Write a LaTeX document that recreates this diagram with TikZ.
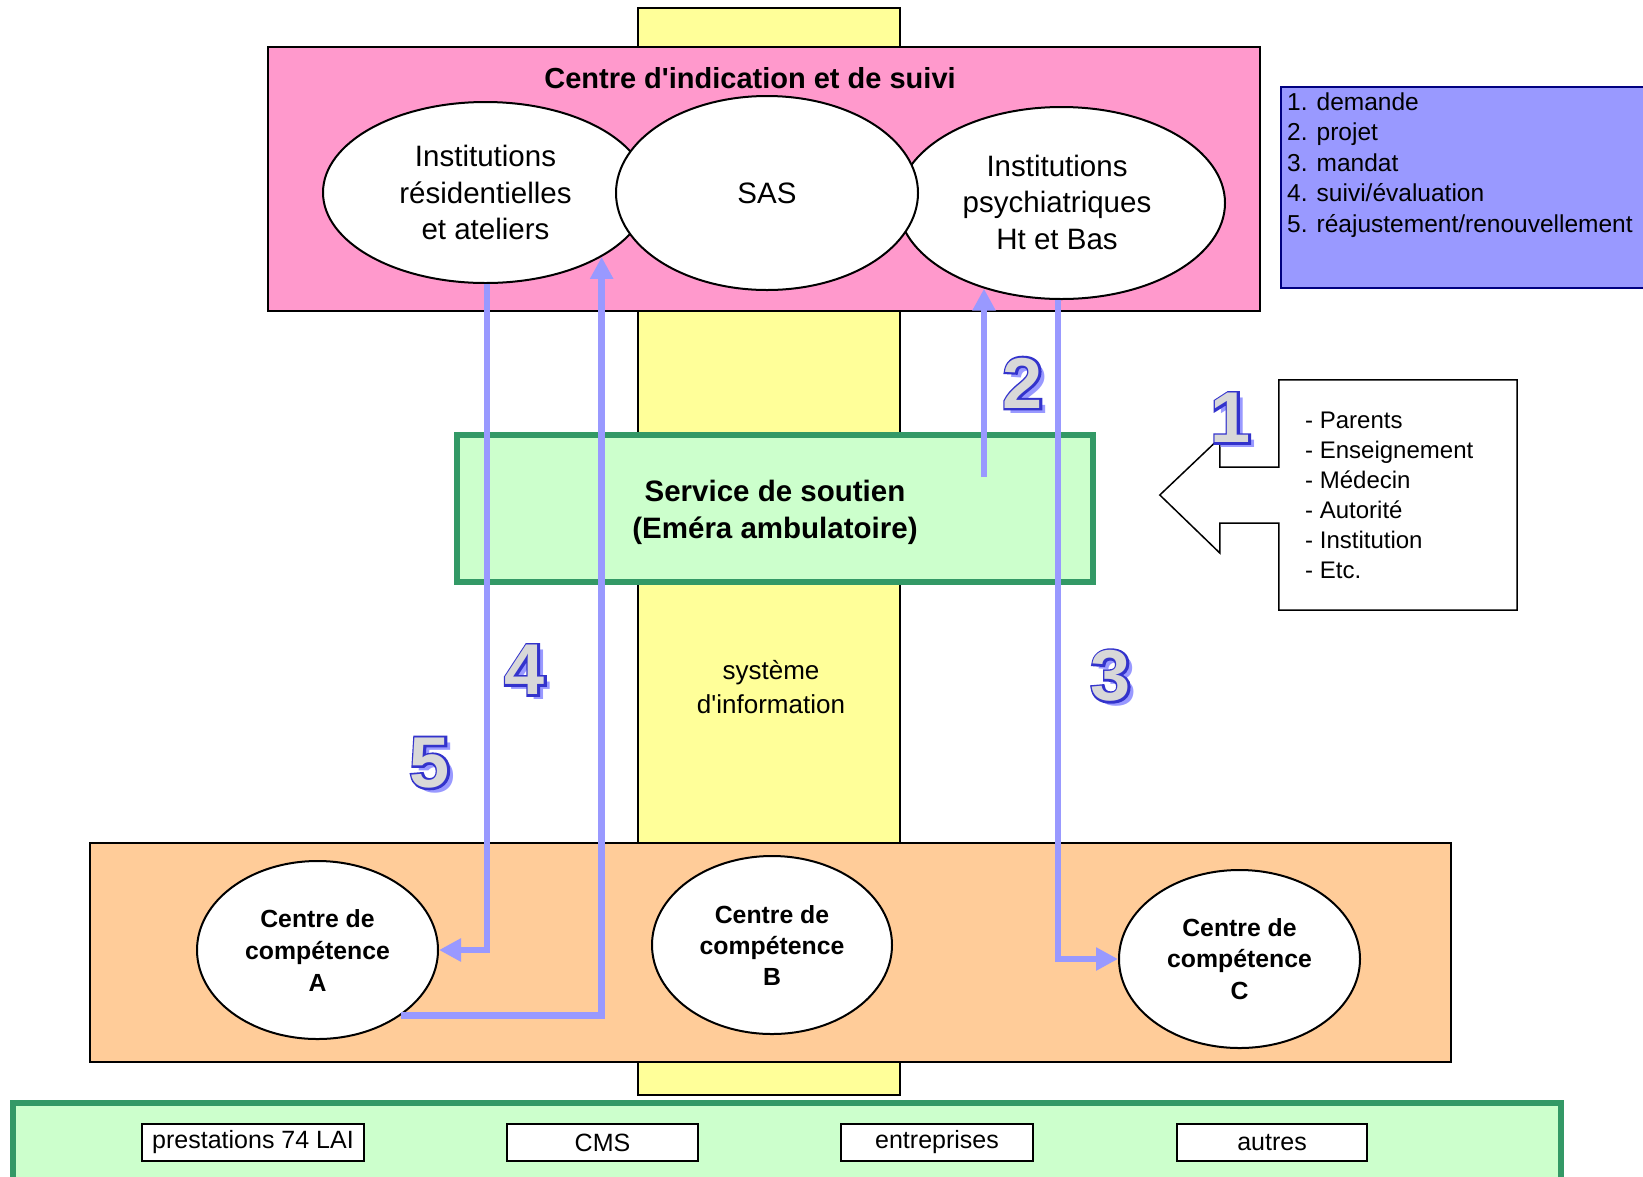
\documentclass[tikz,border=0pt]{standalone}
\usepackage{fontspec}
\setmainfont{Liberation Sans}
\newfontfamily\numoutline{Liberation Sans}[BoldFeatures={FakeBold=6}]
\usetikzlibrary{shapes.geometric,arrows.meta,calc}
\definecolor{pinkbg}{HTML}{FF99CC}
\definecolor{yellowbg}{HTML}{FFFF99}
\definecolor{greenbg}{HTML}{CCFFCC}
\definecolor{greenbd}{HTML}{339966}
\definecolor{orangebg}{HTML}{FFCC99}
\definecolor{lav}{HTML}{9999FF}
\definecolor{navyb}{HTML}{000080}
\definecolor{numline}{HTML}{3333CC}
\definecolor{numfill}{HTML}{D8D8D8}
\newcommand{\fsz}[2]{\fontsize{#1}{#2}\selectfont}
\newcommand{\bignum}[4]{%
  \node[numtxt,text=lav] (#1s) at ($(#2,#3)+(6,5)$) {#4};
  \node[numtxt,text=numline,font=\fsz{72}{80}\numoutline\bfseries] (#1o) at (#2,#3) {#4};
  \node[numtxt,text=numfill] (#1) at (#2,#3) {#4};
}
\begin{document}
\begin{tikzpicture}[x=1pt,y=-1pt,
  box/.style={draw=black,line width=1.5pt,inner sep=0pt,outer sep=0pt},
  ell/.style={ellipse,draw=black,fill=white,line width=2pt,inner sep=0pt,align=center},
  flow/.style={draw=lav,line width=6.5pt,-{Triangle[length=22pt,width=22pt]}},
  numtxt/.style={inner sep=0pt,font=\fsz{72}{80}\bfseries},
  smallbox/.style={box,fill=white,minimum height=37pt,font=\fsz{25}{30}},
]
\useasboundingbox (0,0) rectangle (1643,1176);

% yellow column
\node[box,fill=yellowbg,minimum width=262pt,minimum height=1087pt] (col) at (769,551.5) {};

% pink box
\node[box,fill=pinkbg,minimum width=992pt,minimum height=264pt] (pink) at (764,179) {};
\node[font=\fsz{29}{35}\bfseries] (title) at (750,78) {Centre d\textquotesingle indication et de suivi};

% top ellipses
\node[ell,minimum width=325pt,minimum height=181pt,font=\fsz{29.5}{36.5}] (e1) at (485.5,192.5) {Institutions\\résidentielles\\et ateliers};
\node[ell,minimum width=327pt,minimum height=192pt] (e3) at (1061.5,203) {};
\node[align=center,inner sep=0pt,font=\fsz{29.5}{36.5}] (e3txt) at (1057,202) {Institutions\\psychiatriques\\Ht et Bas};
\node[ell,minimum width=302pt,minimum height=194pt,font=\fsz{29.5}{36.5}] (sas) at (767,193) {SAS};

% legend
\node[draw=navyb,line width=2pt,fill=lav,minimum width=370pt,minimum height=201pt,inner sep=0pt] (leg) at (1466,187.5) {};
\node[anchor=west,align=left,inner sep=0pt,font=\fsz{24.5}{30.6}] (legtxt) at (1287,165) {1. demande\\2. projet\\3. mandat\\4. suivi/évaluation\\5. réajustement/renouvellement};

% service box
\node[draw=greenbd,line width=6pt,fill=greenbg,minimum width=636pt,minimum height=147pt,inner sep=0pt] (svc) at (775,508.5) {};
\node[align=center,inner sep=0pt,font=\fsz{29.5}{37}\bfseries] (svctxt) at (775,512) {Service de soutien\\(Eméra ambulatoire)};

% sources callout
\node[minimum width=238pt,minimum height=230pt,inner sep=0pt] (src) at (1398,495) {};
\draw[line width=1.5pt,fill=white] (src.south west) -- ($(src.west)+(0,28)$) -- ($(src.west)+(-59,28)$) -- ($(src.west)+(-59,58)$)
  -- ($(src.west)+(-119,0)$) -- ($(src.west)+(-59,-57)$) -- ($(src.west)+(-59,-28)$) -- ($(src.west)+(0,-28)$)
  -- (src.north west) -- (src.north east) -- (src.south east) -- cycle;
\node[anchor=west,align=left,inner sep=0pt,font=\fsz{24}{30}] (srctxt) at (1305,495) {- Parents\\- Enseignement\\- Médecin\\- Autorité\\- Institution\\- Etc.};

% information system label
\node[align=center,font=\fsz{26}{33.5}] (info) at (771,687) {système\\d\textquotesingle information};

% orange box
\node[box,fill=orangebg,minimum width=1361pt,minimum height=219pt] (orange) at (770.5,952.5) {};
\node[ell,minimum width=241pt,minimum height=178pt,font=\fsz{24.8}{32}\bfseries] (cA) at (317.5,950) {Centre de\\compétence\\A};
\node[ell,minimum width=240pt,minimum height=178pt,font=\fsz{24.8}{31}\bfseries] (cB) at (772,945) {Centre de\\compétence\\B};
\node[ell,minimum width=241pt,minimum height=178pt,font=\fsz{24.8}{31.5}\bfseries] (cC) at (1239.5,959) {Centre de\\compétence\\C};

% bottom green band
\node[draw=greenbd,line width=6pt,fill=greenbg,minimum width=1548pt,minimum height=90pt,inner sep=0pt] (band) at (787,1148) {};
\node[smallbox,minimum width=222pt] (p74) at (253,1142.5) {prestations 74 LAI};
\node[smallbox,minimum width=191pt] (cms) at (602.5,1142.5) {CMS};
\node[smallbox,minimum width=192pt] (entr) at (937,1142.5) {entreprises};
\node[smallbox,minimum width=190pt] (autres) at (1272,1142.5) {autres};

% flows
\coordinate (a2start) at (984,477);
\draw[flow] (e1.-89) |- (cA.east);
\draw[flow] (cA.-38) -| (e1.-29);
\draw[flow] (a2start) -- (a2start |- e3.-132);
\draw[flow] (e3.-92) |- (cC.west);

% numbers
\bignum{n1}{1231}{418}{1}
\bignum{n2}{1023}{383}{2}
\bignum{n3}{1111}{676}{3}
\bignum{n4}{525}{670}{4}
\bignum{n5}{430}{763}{5}
\end{tikzpicture}
\end{document}
